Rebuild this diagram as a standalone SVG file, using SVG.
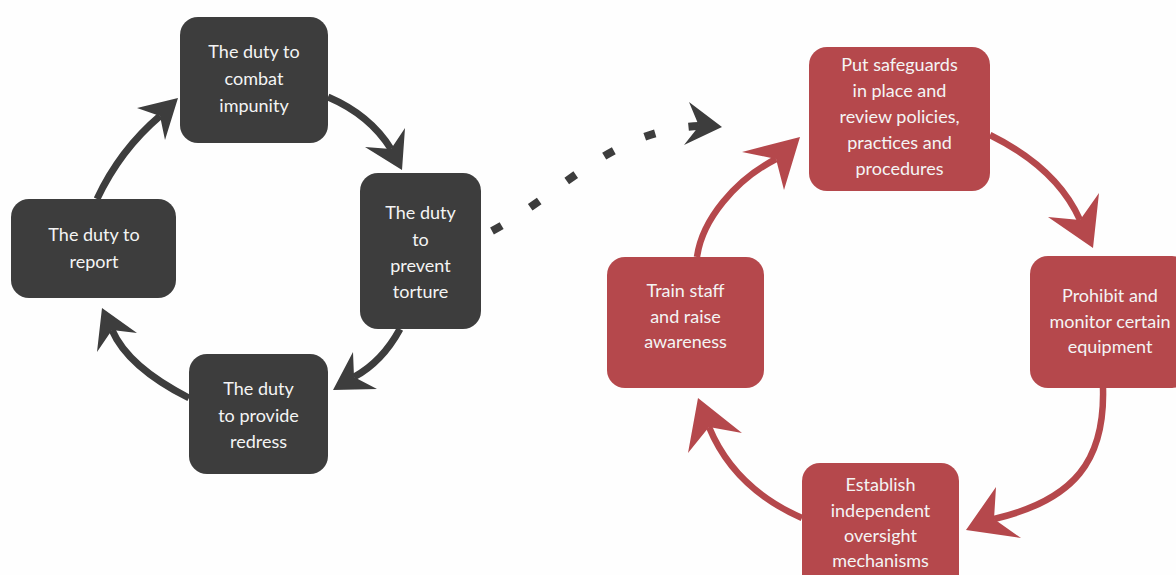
<svg xmlns="http://www.w3.org/2000/svg" width="1176" height="575" viewBox="0 0 1176 575">
<style>
.dk{fill:#3d3d3d}
.rd{fill:#b5484c}
.t{font-family:Lato,"Open Sans","Liberation Sans",sans-serif;font-size:18px;fill:#f4f4f4;text-anchor:middle}
.ld{fill:none;stroke:#3d3d3d;stroke-width:7}
.lr{fill:none;stroke:#b5484c;stroke-width:6.5}
.hd{fill:#3d3d3d}
.hr{fill:#b5484c}
.dash{fill:none;stroke:#3d3d3d;stroke-width:8;stroke-dasharray:11 34}
</style>
<rect width="1176" height="575" fill="#fefefe"/>
<g id="connectors">
<path class="ld" d="M97,199 Q120,150 160,116"/>
<polygon class="hd" points="178,98 137,108 160,116 165,140"/>
<path class="ld" d="M328,97 Q370,115 391,149"/>
<polygon class="hd" points="402,170 365,147 391,149 405,128"/>
<path class="ld" d="M400,329 Q382,362 354,377"/>
<polygon class="hd" points="333,390 353,352 354,377 377,389"/>
<path class="ld" d="M189,398 Q128,367 112,330"/>
<polygon class="hd" points="102,308 97,352 112,330 137,333"/>
<path class="lr" d="M697,257 C702,220 735,180 776,159"/>
<polygon class="hr" points="800,137 742,152 776,159 784,190"/>
<path class="lr" d="M990,135 Q1057,168 1080,220"/>
<polygon class="hr" points="1093,248 1048,217 1080,220 1099,193"/>
<path class="lr" d="M1103,388 C1105,460 1075,500 994,519"/>
<polygon class="hr" points="966,530 996,487 994,519 1021,538"/>
<path class="lr" d="M802,518 Q734,488 709,427"/>
<polygon class="hr" points="698,398 688,453 709,427 742,433"/>
<path class="dash" d="M492,231 C560,195 610,130 699,126"/>
<polygon class="hd" points="722,127 689,102 699,126 684,145"/>
</g>
<g id="combat">
<rect class="dk" x="180" y="17" width="148" height="126" rx="18"/>
<text class="t" x="254" y="58">The duty to</text>
<text class="t" x="254" y="85">combat</text>
<text class="t" x="254" y="112">impunity</text>
</g>
<g id="report">
<rect class="dk" x="11" y="199" width="165" height="99" rx="18"/>
<text class="t" x="94" y="241">The duty to</text>
<text class="t" x="94" y="268">report</text>
</g>
<g id="prevent">
<rect class="dk" x="360" y="173" width="121" height="156" rx="18"/>
<text class="t" x="420.5" y="219">The duty</text>
<text class="t" x="420.5" y="246">to</text>
<text class="t" x="420.5" y="272">prevent</text>
<text class="t" x="420.5" y="298">torture</text>
</g>
<g id="redress">
<rect class="dk" x="189" y="354" width="139" height="120" rx="18"/>
<text class="t" x="258.5" y="395">The duty</text>
<text class="t" x="258.5" y="422">to provide</text>
<text class="t" x="258.5" y="448">redress</text>
</g>
<g id="safeguards">
<rect class="rd" x="809" y="47" width="181" height="144" rx="18"/>
<text class="t" x="899.5" y="71">Put safeguards</text>
<text class="t" x="899.5" y="97">in place and</text>
<text class="t" x="899.5" y="123">review policies,</text>
<text class="t" x="899.5" y="149">practices and</text>
<text class="t" x="899.5" y="175">procedures</text>
</g>
<g id="train">
<rect class="rd" x="607" y="257" width="157" height="131" rx="18"/>
<text class="t" x="685.5" y="297">Train staff</text>
<text class="t" x="685.5" y="323">and raise</text>
<text class="t" x="685.5" y="348">awareness</text>
</g>
<g id="prohibit">
<rect class="rd" x="1030" y="256" width="160" height="132" rx="18"/>
<text class="t" x="1110" y="302">Prohibit and</text>
<text class="t" x="1110" y="328">monitor certain</text>
<text class="t" x="1110" y="353">equipment</text>
</g>
<g id="establish">
<rect class="rd" x="802" y="463" width="157" height="130" rx="18"/>
<text class="t" x="880.5" y="491">Establish</text>
<text class="t" x="880.5" y="517">independent</text>
<text class="t" x="880.5" y="542">oversight</text>
<text class="t" x="880.5" y="567">mechanisms</text>
</g>
</svg>
